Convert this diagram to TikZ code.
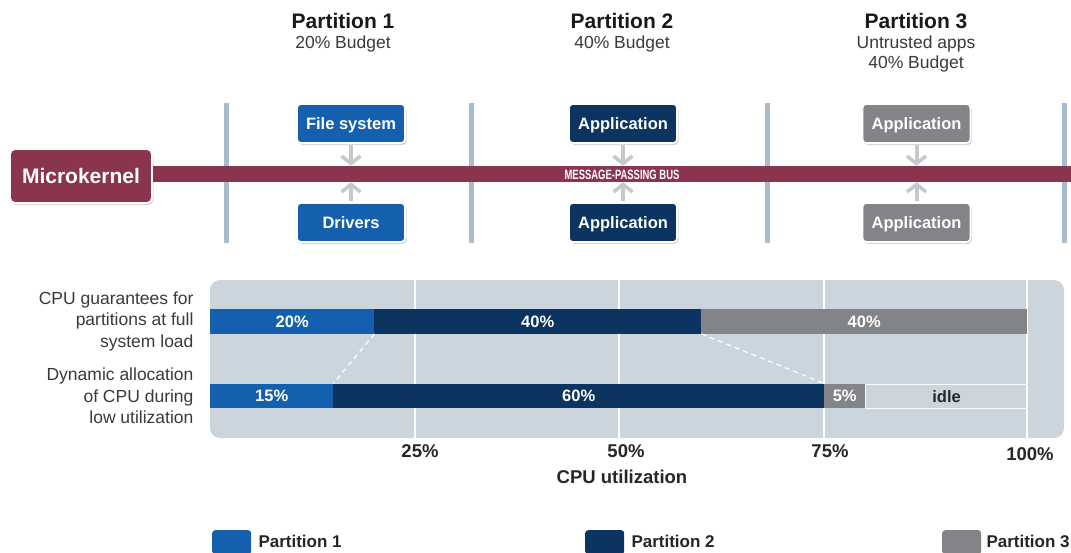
\documentclass[tikz,border=0pt]{standalone}
\usepackage{fontspec}
\setmainfont{Liberation Sans}
\usetikzlibrary{arrows.meta,shadows}
\definecolor{pone}{HTML}{1560AE}
\definecolor{ptwo}{HTML}{0B3460}
\definecolor{pthree}{HTML}{838487}
\definecolor{maroon}{HTML}{8B344D}
\definecolor{sep}{HTML}{A9BCCB}
\definecolor{chartbg}{HTML}{CBD5DE}
\definecolor{arrowgray}{HTML}{C8C8CC}
\definecolor{labeltext}{HTML}{3A3A3A}
\tikzset{
  compbox/.style={draw=white, line width=1.6pt, rounded corners=4pt, minimum width=108pt, minimum height=39pt,
    text=white, font=\fontsize{16.5}{18}\selectfont\bfseries, inner sep=0pt, text height=11.8pt, text depth=0pt,
    drop shadow={shadow xshift=1.5pt, shadow yshift=-2pt, opacity=0.25, fill=black!60}},
  sepline/.style={draw=sep, line width=5pt},
  busarrow/.style={draw=arrowgray, line width=4pt, -{Straight Barb[length=7.5pt,width=19pt,line width=3.5pt]}},
  seg/.style={inner sep=0pt, anchor=north west, minimum height=24.5pt, text height=11.8pt, text depth=0pt, text=white, font=\fontsize{16.5}{17}\selectfont\bfseries},
  hdr/.style={font=\fontsize{21}{23}\selectfont\bfseries, text=black!90},
  sub/.style={font=\fontsize{17.5}{19}\selectfont, text=labeltext},
  rowlab/.style={font=\fontsize{17.5}{21.5}\selectfont, text=labeltext, align=right, anchor=east},
  axlab/.style={font=\fontsize{18.5}{20}\selectfont\bfseries, text=black!85},
  legbox/.style={fill=#1, rounded corners=3pt, minimum width=39pt, minimum height=24pt, inner sep=0pt, anchor=north west},
  legtext/.style={font=\fontsize{17}{19}\selectfont\bfseries, text=black!85, anchor=west},
}
\begin{document}
\begin{tikzpicture}[x=1pt,y=-1pt]
\useasboundingbox[fill=white] (0,0) rectangle (1071,552);
% headers
\node[hdr] (h1) at (343,21) {Partition 1};
\node[sub] (s1) at (343,44) {20\% Budget};
\node[hdr] (h2) at (622,21) {Partition 2};
\node[sub] (s2) at (622,44) {40\% Budget};
\node[hdr] (h3) at (916,21) {Partition 3};
\node[sub] (s3) at (916,44) {Untrusted apps};
\node[sub] (s3b) at (916,64) {40\% Budget};
% separators
\foreach \x/\n in {226/a,471/b,767/c,1064/d}
  \draw[sepline] (\x,103) -- (\x,243);
% bus
\node[fill=maroon, inner sep=0pt, minimum width=921pt, minimum height=16pt] (bus) at (610.5,174) {};
\node[text=white, font=\fontsize{13.5}{14}\selectfont\bfseries, inner sep=0pt] (buslab) at (622,174.5) {\addfontfeature{FakeStretch=0.7}MESSAGE-PASSING BUS};
% microkernel
\node[draw=white, line width=1.8pt, fill=maroon, rounded corners=5pt, minimum width=142pt, minimum height=54pt,
  text=white, font=\fontsize{21}{23}\selectfont\bfseries, inner sep=0pt, text height=15pt, text depth=0pt,
  drop shadow={shadow xshift=1.5pt, shadow yshift=-2pt, opacity=0.25, fill=black!60}] (mk) at (81,176) {Microkernel};
% component boxes
\node[compbox, fill=pone] (fs) at (351,123.5) {File system};
\node[compbox, fill=pone] (drv) at (351,222.5) {Drivers};
\node[compbox, fill=ptwo] (a2t) at (623,123.5) {Application};
\node[compbox, fill=ptwo] (a2b) at (623,222.5) {Application};
\node[compbox, fill=pthree] (a3t) at (916.5,123.5) {Application};
\node[compbox, fill=pthree] (a3b) at (916.5,222.5) {Application};
% arrows
\foreach \b in {fs,a2t,a3t}
  \draw[busarrow] ([yshift=-1pt]\b.south) -- (\b.south |- bus.north);
\foreach \b in {drv,a2b,a3b}
  \draw[busarrow] ([yshift=1pt]\b.north) -- (\b.north |- bus.south);
% chart background
\fill[chartbg, rounded corners=10pt] (210,280) rectangle (1064,438);
\foreach \x in {415,619,824,1027}
  \draw[white, line width=1.2pt] (\x,280) -- (\x,438);
% bar 1
\node[seg, fill=pone, minimum width=164pt] (b1a) at (210,309) {20\%};
\node[seg, fill=ptwo, minimum width=327pt] (b1b) at (374,309) {40\%};
\node[seg, fill=pthree, minimum width=326pt] (b1c) at (701,309) {40\%};
% bar 2
\node[seg, fill=pone, minimum width=123pt] (b2a) at (210,383.5) {15\%};
\node[seg, fill=ptwo, minimum width=491pt] (b2b) at (333,383.5) {60\%};
\node[seg, fill=pthree, minimum width=41pt] (b2c) at (824,383.5) {5\%};
\node[seg, draw=white, line width=1.2pt, minimum width=162pt, text=black!85] (b2d) at (865,383.5) {idle};
% dashed guides
\draw[white, line width=1.2pt, dash pattern=on 5pt off 4pt] (b1a.south east) -- (b2a.north east);
\draw[white, line width=1.2pt, dash pattern=on 5pt off 4pt] (b1b.south east) -- (b2b.north east);
% row labels
\node[rowlab] (r1) at (197,321) {CPU guarantees for\\partitions at full\\system load};
\node[rowlab] (r2) at (197,396) {Dynamic allocation\\of CPU during\\low utilization};
% axis labels
\node[axlab] (x25) at (420,451) {25\%};
\node[axlab] (x50) at (626,451) {50\%};
\node[axlab] (x75) at (830,451) {75\%};
\node[axlab] (x100) at (1030,454) {100\%};
\node[axlab] (xt) at (622,477) {CPU utilization};
% legend
\node[legbox=pone] (l1) at (212,530) {};
\node[legtext] (l1t) at (255,541) {Partition 1};
\node[legbox=ptwo] (l2) at (585,530) {};
\node[legtext] (l2t) at (628,541) {Partition 2};
\node[legbox=pthree] (l3) at (942,530) {};
\node[legtext] (l3t) at (983,541) {Partition 3};
\end{tikzpicture}
\end{document}
